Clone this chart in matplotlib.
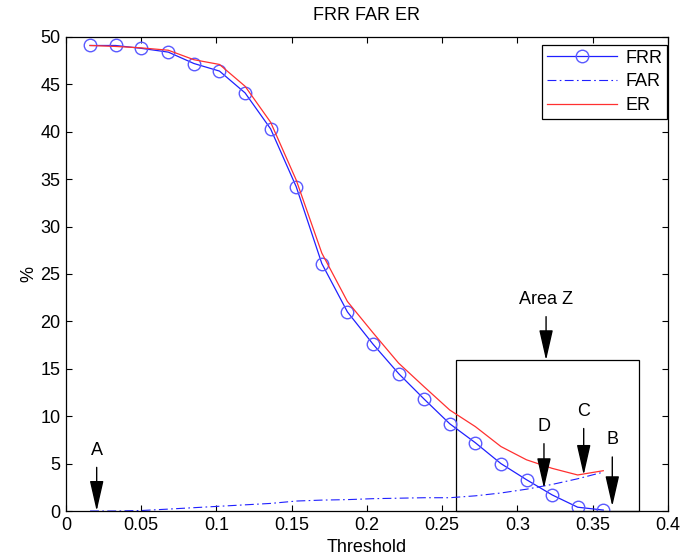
import matplotlib
matplotlib.use('Agg')
import matplotlib.pyplot as plt
#-----------------------------------------------------------------------------------------------------------------------
# Data
threshold = [0.016, 0.033, 0.050, 0.068, 0.085, 0.102, 0.119, 0.136, 0.153, 0.170, 0.187,
             0.204, 0.221, 0.238, 0.255, 0.272, 0.289, 0.306, 0.323, 0.340, 0.357]
frr = [49.1, 49.1, 48.8, 48.4, 47.2, 46.4, 44.1, 40.3, 34.2, 26.1, 21.0,
       17.6, 14.5, 11.8, 9.2, 7.2, 5.0, 3.3, 1.7, 0.4, 0.1]
far = [0.0, 0.0, 0.05, 0.2, 0.35, 0.5, 0.65, 0.8, 1.05, 1.15, 1.2,
       1.3, 1.35, 1.4, 1.4, 1.6, 1.9, 2.3, 2.8, 3.4, 4.1]
er = [49.1, 49.0, 48.85, 48.6, 47.6, 47.1, 44.8, 41.0, 34.9, 27.2, 22.1,
      18.8, 15.6, 13.1, 10.65, 8.9, 6.8, 5.4, 4.5, 3.8, 4.25]

# annotations: label, text position, arrow tip
ann_labels = ['A', 'D', 'C', 'B', 'Area Z']
ann_text = [(0.0204, 5.5), (0.3176, 8.0), (0.344, 9.6), (0.363, 6.6), (0.319, 21.4)]
ann_tip = [(0.0204, 0.0), (0.3176, 2.4), (0.344, 3.8), (0.363, 0.5), (0.319, 15.9)]

zone_x = [0.259, 0.381]
zone_y = [0.0, 15.9]

x_ticks = [0, 0.05, 0.1, 0.15, 0.2, 0.25, 0.3, 0.35, 0.4]
x_tick_labels = ['0', '0.05', '0.1', '0.15', '0.2', '0.25', '0.3', '0.35', '0.4']
y_ticks = list(range(0, 51, 5))
#-----------------------------------------------------------------------------------------------------------------------
plt.rcParams['font.family'] = ['Liberation Sans', 'DejaVu Sans']
plt.rcParams['font.size'] = 13

fig = plt.figure(figsize=(6.83, 5.6), dpi=100)
ax = fig.add_axes([0.0966, 0.0875, 0.8814, 0.8465])

ax.plot(threshold, frr, color='#2020ff', lw=0.9, marker='o', markersize=9,
        markerfacecolor='none', markeredgecolor='#5a5aff', markeredgewidth=1.0, label='FRR')
ax.plot(threshold, far, color='#2020ff', lw=0.8, linestyle=(0, (8, 3, 1.5, 3)), label='FAR')
ax.plot(threshold, er, color='#ff3030', lw=0.9, label='ER')

# Area Z box
ax.add_patch(plt.Rectangle((zone_x[0], zone_y[0]), zone_x[1]-zone_x[0], zone_y[1]-zone_y[0],
                           fill=False, edgecolor='k', lw=0.9, clip_on=False))

for k in range(len(ann_labels)):
    tx, ty = ann_text[k]
    px, py = ann_tip[k]
    ax.text(tx, ty, ann_labels[k], ha='center', va='bottom', fontsize=13)
    ax.annotate('', xy=(px, py), xytext=(tx, ty - 0.9),
                arrowprops=dict(arrowstyle='-|>,head_length=1.45,head_width=0.33', color='k',
                                lw=1.0, shrinkA=0, shrinkB=0),
                annotation_clip=False)

ax.set_xlim(0, 0.4)
ax.set_ylim(0, 50)
ax.set_xticks(x_ticks)
ax.set_xticklabels(x_tick_labels)
ax.set_yticks(y_ticks)
ax.tick_params(direction='in', length=4, width=0.8, top=True, right=True, labelsize=13, pad=4)
for s in ax.spines.values():
    s.set_linewidth(0.9)

ax.set_title('FRR FAR ER', fontsize=13, pad=12)
ax.set_xlabel('Threshold', fontsize=13, labelpad=4)
ax.set_ylabel('%', fontsize=13, labelpad=2)

leg = ax.legend(loc='upper right', bbox_to_anchor=(0.998, 0.983), borderaxespad=0, fancybox=False,
                framealpha=1, edgecolor='k', fontsize=13, handlelength=3.9, borderpad=0.25,
                labelspacing=0.38, handletextpad=0.45)
leg.get_frame().set_linewidth(0.9)

fig.savefig('out.png', dpi=100)
